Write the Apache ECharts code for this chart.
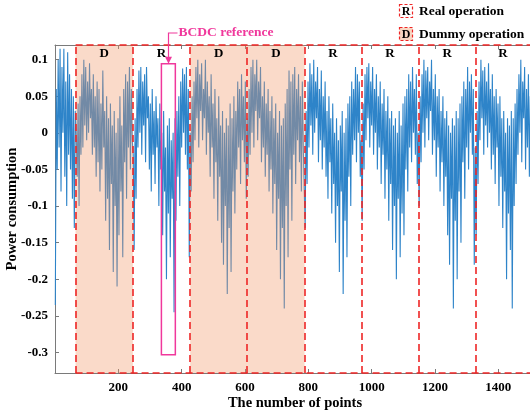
<!DOCTYPE html>
<html><head><meta charset="utf-8">
<script src="https://cdn.jsdelivr.net/npm/echarts@6/dist/echarts.min.js"></script>
<style>html,body{margin:0;padding:0;background:#fff}#c{width:530px;height:415px}</style>
</head><body><div id="c"></div>
<script>
const segHead = [-0.235,0.06,-0.05,0.1,-0.02,0.115,-0.08,0.09,0.0,0.115,-0.06,0.07,-0.1,0.11,-0.03,0.08,-0.05,0.06,-0.09,0.05,-0.13,0.03];
const seg1 = [0.0,-0.06,0.04,-0.1,0.05,-0.03,0.08,-0.02,0.1,0.01,0.09,-0.01,0.07,0.0,0.095,0.02,0.06,-0.03,0.08,-0.02,
0.05,-0.06,0.07,-0.04,0.06,-0.08,0.04,-0.05,0.085,-0.02,0.03,-0.12,0.05,-0.09,0.02,-0.16,0.04,-0.07,0.01,-0.19,
0.03,-0.1,0.0,-0.21,0.02,-0.14,0.05,-0.08,0.01,-0.17,0.06,-0.04,0.08,-0.09,0.07,-0.02,0.09,-0.05,0.06,-0.01];
const seg2 = [-0.03,-0.16,0.02,-0.09,0.06,-0.02,0.085,0.0,0.09,-0.03,0.07,0.01,0.08,-0.04,0.09,0.02,0.05,-0.05,0.04,-0.08,
0.06,-0.03,0.03,-0.07,0.05,-0.02,0.02,-0.1,0.04,-0.05,0.0,-0.14,0.03,-0.08,-0.02,-0.2,0.01,-0.11,0.02,-0.17,
-0.01,-0.09,0.0,-0.245,0.02,-0.12,0.03,-0.06,0.05,-0.1,0.07,-0.02,0.088,0.0,0.08,-0.03,0.09,-0.05,0.06,-0.17];
const seg3 = [0.0,-0.08,0.05,-0.04,0.07,-0.01,0.09,0.02,0.1,-0.02,0.08,0.03,0.095,-0.01,0.06,0.02,0.1,-0.03,0.07,0.0,
0.05,-0.06,0.08,-0.02,0.04,-0.09,0.06,-0.04,0.02,-0.12,0.05,-0.06,0.01,-0.15,0.03,-0.18,0.0,-0.1,0.02,-0.22,
0.01,-0.13,0.04,-0.19,0.02,-0.08,0.05,-0.11,0.03,-0.05,0.07,-0.02,0.06,-0.07,0.08,-0.01,0.05,-0.04,0.07,-0.09];
const seg4 = [0.02,-0.06,0.06,-0.03,0.09,0.0,0.1,-0.02,0.08,0.03,0.1,-0.01,0.07,0.02,0.09,-0.04,0.05,-0.02,0.07,-0.06,
0.04,-0.03,0.06,-0.08,0.03,-0.05,0.05,-0.11,0.02,-0.07,0.04,-0.16,0.0,-0.09,0.03,-0.2,0.01,-0.13,0.02,-0.24,
0.04,-0.1,0.06,-0.17,0.085,-0.05,0.07,-0.12,0.08,-0.03,0.09,-0.07,0.06,-0.01,0.08,-0.04,0.05,-0.08,0.07,-0.02];
const seg5 = [-0.02,-0.13,0.03,-0.07,0.07,-0.02,0.095,0.01,0.08,-0.03,0.1,0.0,0.07,0.02,0.09,-0.04,0.06,-0.01,0.085,-0.05,
0.05,-0.02,0.07,-0.06,0.03,-0.09,0.05,-0.04,0.02,-0.11,0.04,-0.07,0.0,-0.15,0.02,-0.1,-0.01,-0.19,0.01,-0.08,
0.03,-0.22,0.0,-0.12,0.02,-0.17,0.04,-0.06,0.05,-0.1,0.07,-0.03,0.06,-0.01,0.09,-0.04,0.08,0.0,0.07,-0.06];
const seg6 = [-0.01,-0.12,0.04,-0.05,0.08,-0.01,0.09,0.02,0.095,-0.02,0.07,0.01,0.09,-0.03,0.06,0.0,0.08,-0.05,0.05,-0.02,
0.07,-0.07,0.04,-0.03,0.06,-0.09,0.03,-0.05,0.05,-0.12,0.02,-0.07,0.03,-0.16,0.01,-0.1,0.02,-0.2,0.0,-0.09,
0.03,-0.17,0.01,-0.11,0.04,-0.14,0.05,-0.05,0.06,-0.08,0.08,-0.02,0.07,-0.04,0.09,0.0,0.06,-0.03,0.08,-0.07];
const seg7 = [0.0,-0.1,0.05,-0.04,0.08,0.0,0.1,-0.02,0.085,0.02,0.09,-0.01,0.07,0.03,0.1,-0.03,0.06,-0.01,0.08,-0.06,
0.05,-0.02,0.06,-0.08,0.03,-0.04,0.05,-0.1,0.02,-0.06,0.03,-0.14,0.01,-0.18,0.0,-0.09,0.02,-0.24,0.01,-0.12,
0.03,-0.2,0.02,-0.08,0.04,-0.15,0.05,-0.04,0.07,-0.09,0.06,-0.02,0.09,-0.05,0.07,0.0,0.08,-0.03,0.06,-0.18];
const seg8 = [-0.02,-0.14,0.03,-0.07,0.07,-0.01,0.1,0.02,0.085,-0.03,0.09,0.01,0.07,-0.02,0.095,0.0,0.06,-0.05,0.08,-0.03,
0.05,-0.07,0.06,-0.02,0.04,-0.1,0.05,-0.06,0.02,-0.13,0.03,-0.08,0.0,-0.2,0.02,-0.11,0.01,-0.16,0.03,-0.24,
0.02,-0.1,0.04,-0.07,0.06,-0.03,0.08,0.0,0.1,-0.04,0.07,0.02,0.09,-0.05,0.06,-0.02,0.08,-0.06,0.05,-0.03];
const sampleStep = 3;
const firstPoint = 1;

// Operation windows (point index boundaries) and their kinds
const regionEdges = [65, 246, 427, 607, 788, 968, 1148, 1329, 1510];
const regionKinds = ['D', 'R', 'D', 'D', 'R', 'R', 'R', 'R'];
// BCDC reference box
const bcdcX = [336, 380];
const bcdcY = [0.0945, -0.303];
const bcdcText = 'BCDC reference';
const legendItems = [['R', 'Real operation'], ['D', 'Dummy operation']];
const xLabel = 'The number of points';
const yLabel = 'Power consumption';

const FONT = 'Liberation Serif';
const RED = '#ee2626';
const PINK = '#f0389c';
const ORANGE = 'rgba(240,150,100,0.35)';
const X_MIN = 0, X_MAX = 1500, Y_MIN = -0.328, Y_MAX = 0.12;

const vals = [].concat(segHead, seg1, seg2, seg3, seg4, seg5, seg6, seg7, seg8);
const data = vals.map((v, i) => [firstPoint + sampleStep * i, v]);

const regions = regionKinds.map((k, i) => [{name: k, xAxis: regionEdges[i]}, {xAxis: regionEdges[i + 1]}]);
const dummyRegions = regions.filter((r, i) => regionKinds[i] === 'D');
const lastEdge = Math.min(regionEdges[regionEdges.length - 1], X_MAX);
const dashLines = regionEdges.filter(e => e <= X_MAX).map(e => ({xAxis: e}));
dashLines.push([{coord: [regionEdges[0], Y_MAX]}, {coord: [lastEdge, Y_MAX]}]);
dashLines.push([{coord: [regionEdges[0], Y_MIN]}, {coord: [lastEdge, Y_MIN]}]);

const chart = echarts.init(document.getElementById('c'), null, {renderer: 'canvas'});
const axisGrey = '#7a7a7a';
const lblStyle = {fontFamily: FONT, fontWeight: 'bold', fontSize: 13, color: '#000'};
const fmt = v => String(v);
chart.setOption({
  animation: false,
  grid: {left: 55, top: 45, width: 480, height: 328, show: false},
  xAxis: [{
    type: 'value', min: X_MIN, max: X_MAX, interval: 200, position: 'bottom',
    axisLine: {show: true, onZero: false, lineStyle: {color: axisGrey, width: 1}},
    axisTick: {show: true, inside: true, length: 4, lineStyle: {color: axisGrey}},
    axisLabel: Object.assign({margin: 8, showMinLabel: false, showMaxLabel: false, formatter: fmt}, lblStyle),
    splitLine: {show: false}
  }, {
    type: 'value', min: X_MIN, max: X_MAX, interval: 200, position: 'top',
    axisLine: {show: true, onZero: false, lineStyle: {color: axisGrey, width: 1}},
    axisTick: {show: true, inside: true, length: 4, lineStyle: {color: axisGrey}},
    axisLabel: {show: false}, splitLine: {show: false}
  }],
  yAxis: [{
    type: 'value', min: Y_MIN, max: Y_MAX, splitNumber: 9,
    axisLine: {show: true, onZero: false, lineStyle: {color: axisGrey, width: 1}},
    axisTick: {show: true, inside: true, length: 4, lineStyle: {color: axisGrey}},
    axisLabel: Object.assign({margin: 7, showMinLabel: false, showMaxLabel: false, formatter: fmt}, lblStyle),
    splitLine: {show: false}
  }],
  series: [{
    type: 'line', data: data, z: 2, showSymbol: false, symbol: 'none', sampling: null,
    lineStyle: {color: '#2e84c9', width: 1.1}, silent: true
  }, {
    type: 'line', data: [], silent: true,
    markArea: {z: 3, silent: true, itemStyle: {color: ORANGE, borderWidth: 0}, label: {show: false}, data: dummyRegions}
  }, {
    type: 'line', data: [], silent: true,
    markArea: {z: 4, silent: true,
      itemStyle: {color: 'rgba(0,0,0,0)', borderWidth: 0},
      label: Object.assign({show: true, position: 'insideTop', distance: 2}, lblStyle),
      data: regions},
    markLine: {z: 4, silent: true, symbol: ['none', 'none'], animation: false,
      label: {show: false},
      lineStyle: {color: RED, width: 1.6, type: [7, 4]},
      data: dashLines}
  }, {
    type: 'line', data: [], silent: true,
    markArea: {z: 5, silent: true,
      itemStyle: {color: 'rgba(0,0,0,0)', borderColor: PINK, borderWidth: 1.5},
      label: {show: false},
      data: [[{xAxis: bcdcX[0], yAxis: bcdcY[0]}, {xAxis: bcdcX[1], yAxis: bcdcY[1]}]]}
  }]
});

// Annotations positioned from axis scales
const boxTop = chart.convertToPixel({gridIndex: 0}, [(bcdcX[0] + bcdcX[1]) / 2, bcdcY[0]]);
const ax = Math.round(boxTop[0]) + 0.5, ay = boxTop[1];
const textY = 33;
const textX = ax + 10;
const graphics = [
  {type: 'polyline', z: 10, shape: {points: [[textX - 1, textY], [ax, textY], [ax, ay - 5]]}, style: {stroke: PINK, lineWidth: 1.2, fill: null}},
  {type: 'polygon', z: 10, shape: {points: [[ax - 3.5, ay - 7], [ax + 3.5, ay - 7], [ax, ay]]}, style: {fill: PINK}},
  {type: 'text', z: 10, x: textX, y: textY, style: {text: bcdcText, fill: PINK, font: 'bold 13.5px "' + FONT + '"', align: 'left', verticalAlign: 'middle'}},
  {type: 'text', z: 10, x: 295, y: 403, style: {text: xLabel, fill: '#000', font: 'bold 14.5px "' + FONT + '"', align: 'center', verticalAlign: 'middle'}},
  {type: 'text', z: 10, x: 12, y: 209, rotation: Math.PI / 2, style: {text: yLabel, fill: '#000', font: 'bold 14.5px "' + FONT + '"', align: 'center', verticalAlign: 'middle'}}
];
legendItems.forEach((it, i) => {
  const y = 4 + i * 23;
  graphics.push({type: 'rect', z: 10, shape: {x: 399.5, y: y + 0.5, width: 13, height: 13},
    style: {fill: it[0] === 'D' ? '#f8d6c2' : '#fff', stroke: RED, lineWidth: 1.2, lineDash: [3, 2]}});
  graphics.push({type: 'text', z: 11, x: 406, y: y + 7.5, style: {text: it[0], fill: '#000', font: 'bold 12px "' + FONT + '"', align: 'center', verticalAlign: 'middle'}});
  graphics.push({type: 'text', z: 11, x: 419, y: y + 8, style: {text: it[1], fill: '#000', font: 'bold 13.5px "' + FONT + '"', align: 'left', verticalAlign: 'middle'}});
});
chart.setOption({graphic: graphics});
</script>
</body></html>
